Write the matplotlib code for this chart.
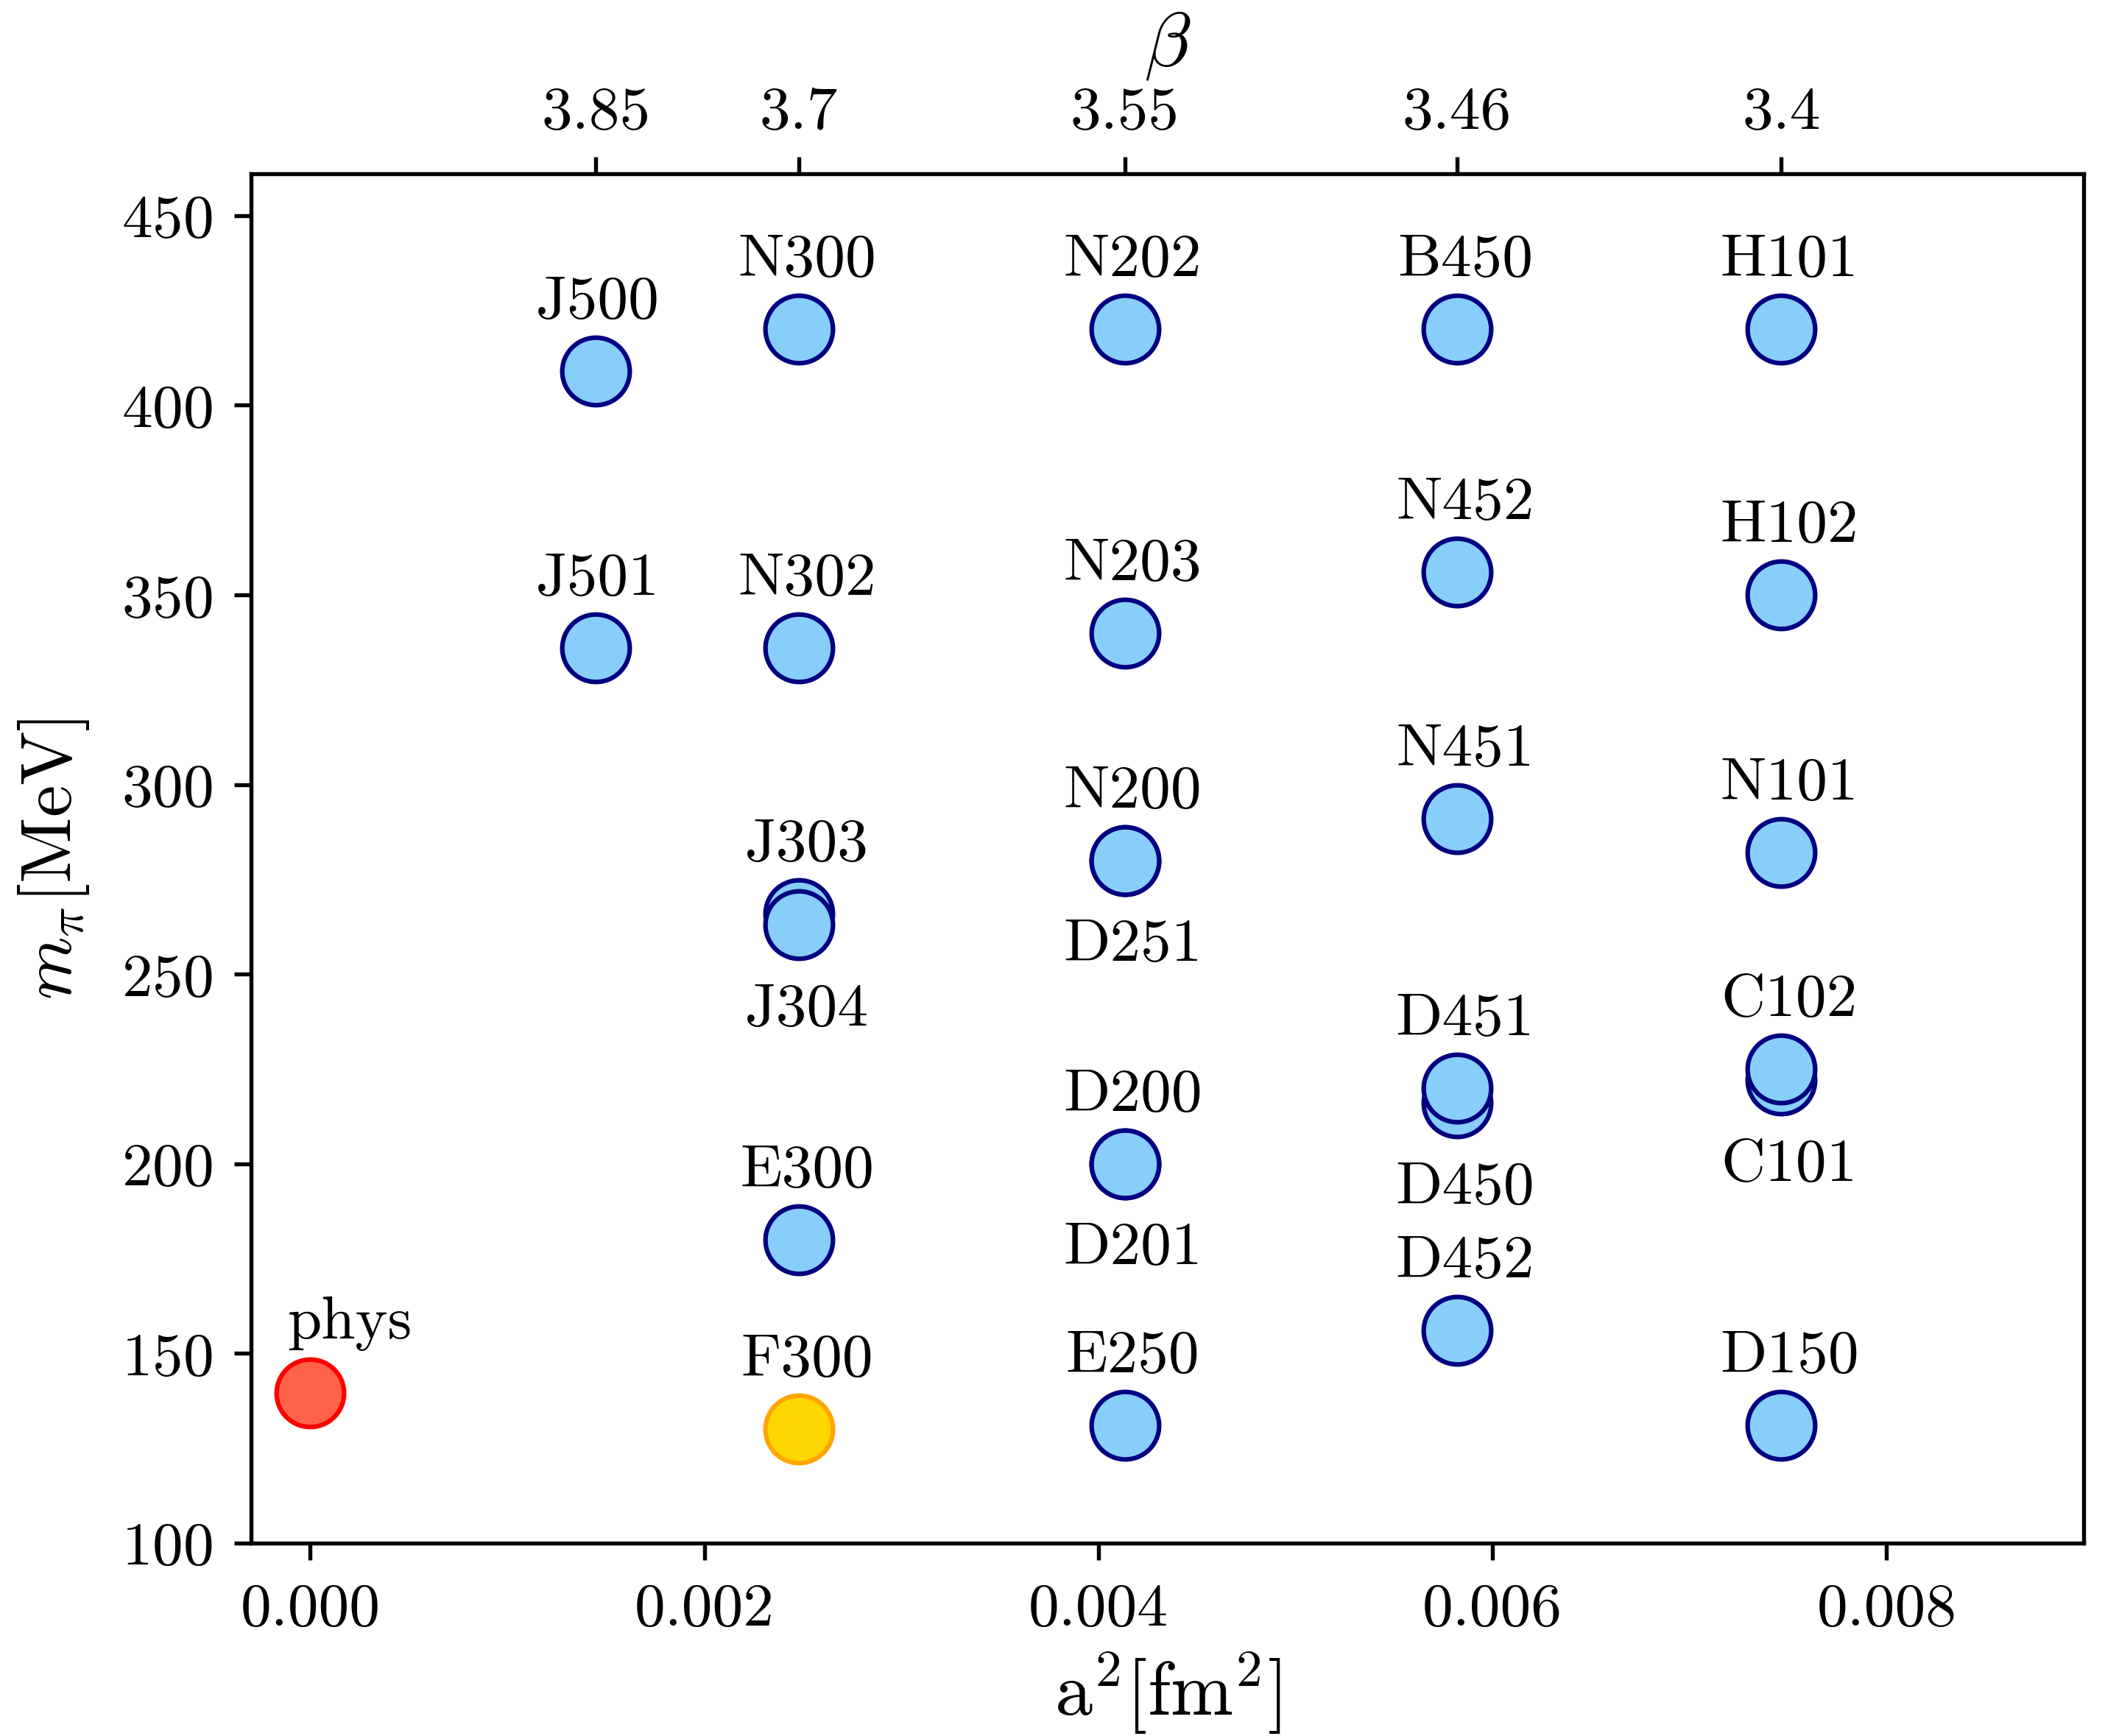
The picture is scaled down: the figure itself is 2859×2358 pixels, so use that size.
import matplotlib
matplotlib.use('Agg')
import matplotlib.pyplot as plt
import numpy as np

plt.rcParams['font.family'] = 'serif'
plt.rcParams['font.serif'] = ['cmr10']
plt.rcParams['mathtext.fontset'] = 'cm'
plt.rcParams['axes.formatter.use_mathtext'] = True
plt.rcParams['font.size'] = 20

# lattice spacings squared [fm^2] per beta
betas = ['3.85', '3.7', '3.55', '3.46', '3.4']
a2_beta = [0.00145, 0.00248, 0.004134, 0.00582, 0.007465]

# ensembles: name, beta index, m_pi [MeV], label above (1) or below (-1)
names = ['J500', 'J501',
         'N300', 'N302', 'J303', 'J304', 'E300', 'F300',
         'N202', 'N203', 'N200', 'D251', 'D200', 'D201', 'E250',
         'B450', 'N452', 'N451', 'D450', 'D451', 'D452',
         'H101', 'H102', 'N101', 'C101', 'C102', 'D150']
beta_idx = [0, 0,
            1, 1, 1, 1, 1, 1,
            2, 2, 2, 2, 2, 2, 2,
            3, 3, 3, 3, 3, 3,
            4, 4, 4, 4, 4, 4]
mpi = [409, 336,
       420, 336, 266, 263, 180, 130,
       420, 340, 280, 280, 200, 200, 131,
       420, 356, 291, 216, 220, 156,
       420, 350, 282, 222, 225, 131]
side = [1, 1,
        1, 1, 1, -1, 1, 1,
        1, 1, 1, -1, 1, -1, 1,
        1, 1, 1, -1, 1, 1,
        1, 1, 1, -1, 1, 1]

phys_a2 = 0.0
phys_mpi = 139.57

a2 = np.array([a2_beta[i] for i in beta_idx])

fig = plt.figure(figsize=(9.53, 7.863), dpi=300)
ax = fig.add_axes([0.1193, 0.1111, 0.8706, 0.7884])

ms = 22
ax.plot(phys_a2, phys_mpi, 'o', ms=ms, mfc='tomato', mec='red', mew=1.5, zorder=3)
ax.annotate('phys', (phys_a2, phys_mpi), xytext=(13, 18), textcoords='offset points',
            ha='center', va='baseline')

for n, x, y, s in zip(names, a2, mpi, side):
    if n == 'F300':
        ax.plot(x, y, 'o', ms=ms, mfc='gold', mec='orange', mew=1.5, zorder=3)
    else:
        ax.plot(x, y, 'o', ms=ms, mfc='lightskyblue', mec='navy', mew=1.5, zorder=3)
    dx = 0.5 if n.startswith('J5') else 2.6
    dy = 17.5 if s > 0 else -32.5
    ax.annotate(n, (x, y), xytext=(dx, dy), textcoords='offset points',
                ha='center', va='baseline')

ax.set_xlim(-0.0003, 0.009)
ax.set_ylim(100, 461)
ax.set_xticks([0.0, 0.002, 0.004, 0.006, 0.008])
ax.set_xticklabels(['0.000', '0.002', '0.004', '0.006', '0.008'])
ax.set_yticks(np.arange(100, 451, 50))
ax.set_xlabel(r'a$^2$[fm$^2$]', fontsize=24.5, labelpad=4)
ax.set_ylabel(r'$m_\pi$[MeV]', fontsize=23.5, labelpad=10)
ax.tick_params(axis='both', length=5.5, width=1.3)
ax.tick_params(axis='x', pad=7.5)
ax.tick_params(axis='y', pad=7)
for sp in ax.spines.values():
    sp.set_linewidth(1.3)

ax2 = ax.twiny()
ax2.set_xlim(ax.get_xlim())
ax2.set_xticks(a2_beta)
ax2.set_xticklabels(betas)
ax2.set_xlabel(r'$\beta$', fontsize=25, labelpad=7)
ax2.tick_params(axis='x', length=5.5, width=1.3, pad=5.5)

fig.savefig('out.png', dpi=300)
